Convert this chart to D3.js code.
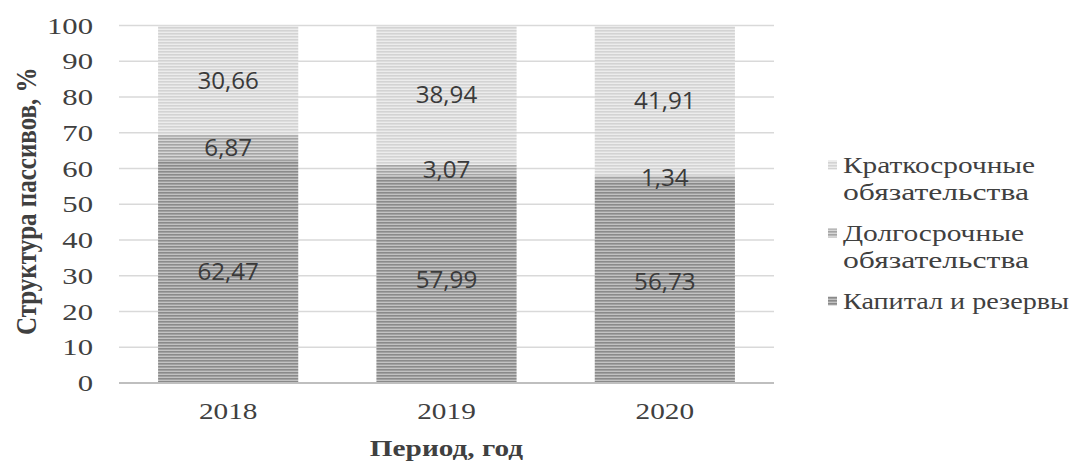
<!DOCTYPE html>
<html>
<head>
<meta charset="utf-8">
<script src="https://cdn.jsdelivr.net/npm/d3@7"></script>
<style>
  html, body { margin: 0; padding: 0; background: #fff; }
</style>
</head>
<body>
<svg id="chart" width="1076" height="461"></svg>
<script>
// Структура пассивов по годам, %
const years = ["2018", "2019", "2020"];
const capital = [62.47, 57.99, 56.73];     // Капитал и резервы
const longTerm = [6.87, 3.07, 1.34];       // Долгосрочные обязательства
const shortTerm = [30.66, 38.94, 41.91];   // Краткосрочные обязательства
const yTicks = [0, 10, 20, 30, 40, 50, 60, 70, 80, 90, 100];

const svg = d3.select("#chart");
const margin = { left: 119, right: 302, top: 25.5, bottom: 78 };
const width = 1076, height = 461;
const SERIF = "'Liberation Serif', 'Times New Roman', serif";
const SX = 1.22;      // горизонтальное растяжение подписей осей

const x = d3.scaleBand().domain(years)
  .range([margin.left, width - margin.right])
  .paddingInner(0.358).paddingOuter(0.179);
const y = d3.scaleLinear().domain([0, 100]).range([height - margin.bottom, margin.top]);

// Штриховые заливки рядов
const fills = [
  { id: "p-cap", bg: "#c2c2c2", line: "#8a8a8a" },
  { id: "p-long", bg: "#d6d6d6", line: "#a4a4a4" },
  { id: "p-short", bg: "#ececec", line: "#d3d3d3" }
];
const defs = svg.append("defs");
fills.forEach(f => {
  const p = defs.append("pattern").attr("id", f.id)
    .attr("patternUnits", "userSpaceOnUse").attr("width", 8).attr("height", 3);
  p.append("rect").attr("width", 8).attr("height", 3).attr("fill", f.bg);
  p.append("rect").attr("y", 0).attr("width", 8).attr("height", 1.6).attr("fill", f.line);
});

// Сетка
svg.append("g").selectAll("line").data(yTicks.filter(t => t > 0)).join("line")
  .attr("x1", margin.left).attr("x2", width - margin.right)
  .attr("y1", d => y(d)).attr("y2", d => y(d))
  .attr("stroke", "#d9d9d9").attr("stroke-width", 1.5);

// Столбцы с накоплением
const table = years.map((yr, i) => ({ year: yr, cap: capital[i], long: longTerm[i], short: shortTerm[i] }));
const stack = d3.stack().keys(["cap", "long", "short"])(table);

const layers = svg.append("g").selectAll("g").data(stack).join("g")
  .attr("fill", (d, i) => `url(#${fills[i].id})`);
layers.selectAll("rect").data(d => d).join("rect")
  .attr("x", d => x(d.data.year))
  .attr("width", x.bandwidth())
  .attr("y", d => y(d[1]))
  .attr("height", d => y(d[0]) - y(d[1]));

// Подписи значений
const fmt = v => v.toFixed(2).replace(".", ",");
stack.forEach(layer => {
  svg.append("g").selectAll("text").data(layer).join("text")
    .attr("transform", d => `translate(${x(d.data.year) + x.bandwidth() / 2},${(y(d[0]) + y(d[1])) / 2}) scale(1.05,1)`)
    .attr("dy", "0.36em")
    .attr("text-anchor", "middle")
    .attr("font-family", "'Open Sans', sans-serif")
    .attr("font-size", 23)
    .attr("fill", "#3a3a3a")
    .text(d => fmt(d[1] - d[0]));
});

// Ось X
svg.append("line")
  .attr("x1", margin.left).attr("x2", width - margin.right)
  .attr("y1", y(0)).attr("y2", y(0))
  .attr("stroke", "#bfbfbf").attr("stroke-width", 2);

const xAxis = d3.axisBottom(x).tickSize(0).tickPadding(0);
svg.append("g").attr("transform", `translate(0,${y(0)})`).call(xAxis)
  .call(g => g.select(".domain").remove())
  .selectAll("text")
  .attr("y", null).attr("dy", null)
  .attr("transform", `translate(0,36) scale(${SX},1)`)
  .attr("font-family", SERIF)
  .attr("font-size", 24).attr("fill", "#404040");

// Ось Y
const yAxis = d3.axisLeft(y).tickValues(yTicks).tickSize(0).tickPadding(0);
svg.append("g").attr("transform", `translate(${margin.left},0)`).call(yAxis)
  .call(g => g.select(".domain").remove())
  .selectAll("text")
  .attr("x", null)
  .attr("transform", `translate(-26,0) scale(1.28,1)`)
  .attr("font-family", SERIF)
  .attr("font-size", 24).attr("fill", "#404040");

// Заголовки осей
svg.append("text")
  .attr("transform", `translate(25,${(y(0) + y(100)) / 2 - 3}) scale(${SX},1) rotate(-90)`)
  .attr("dy", "0.35em")
  .attr("text-anchor", "middle")
  .attr("font-family", SERIF)
  .attr("font-weight", "bold").attr("font-size", 25).attr("fill", "#404040")
  .text("Структура пассивов, %");

svg.append("text")
  .attr("transform", `translate(${(margin.left + width - margin.right) / 2},448) scale(${SX},1)`)
  .attr("dy", "0.35em")
  .attr("text-anchor", "middle")
  .attr("font-family", SERIF)
  .attr("font-weight", "bold").attr("font-size", 24).attr("fill", "#404040")
  .text("Период, год");

// Легенда: строки с заданной шириной
const legendItems = [
  { fill: fills[2].id, lines: ["Краткосрочные", "обязательства"], widths: [192, 186], y: 165 },
  { fill: fills[1].id, lines: ["Долгосрочные", "обязательства"], widths: [181, 186], y: 233 },
  { fill: fills[0].id, lines: ["Капитал и резервы"], widths: [226], y: 301 }
];
const lg = svg.append("g");
legendItems.forEach(item => {
  lg.append("rect").attr("x", 828).attr("y", item.y - 4.5).attr("width", 9).attr("height", 9)
    .attr("fill", `url(#${item.fill})`);
  item.lines.forEach((ln, k) => {
    lg.append("text")
      .attr("x", 843).attr("y", item.y + k * 26.5).attr("dy", "0.35em")
      .attr("textLength", item.widths[k]).attr("lengthAdjust", "spacingAndGlyphs")
      .attr("font-family", SERIF)
      .attr("font-size", 24).attr("fill", "#404040")
      .text(ln);
  });
});
</script>
</body>
</html>
